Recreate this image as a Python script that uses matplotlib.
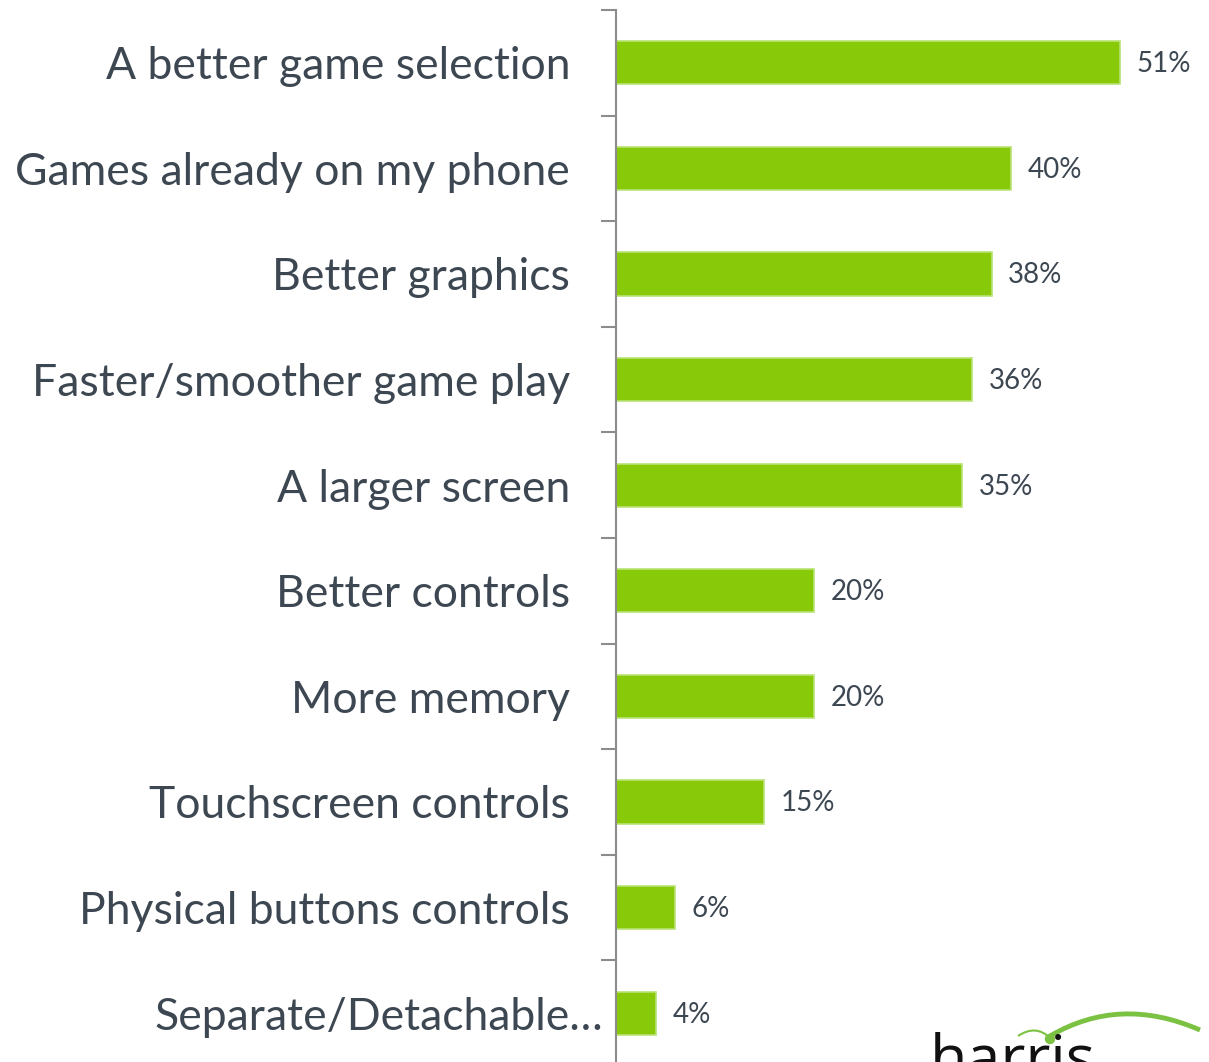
import matplotlib.pyplot as plt
import numpy as np
from matplotlib.path import Path
from matplotlib.patches import PathPatch, Circle
from matplotlib.transforms import ScaledTranslation

categories = ['A better game selection', 'Games already on my phone', 'Better graphics',
              'Faster/smoother game play', 'A larger screen', 'Better controls',
              'More memory', 'Touchscreen controls', 'Physical buttons controls',
              'Separate/Detachable\u2026']
values = [51, 40, 38, 36, 35, 20, 20, 15, 6, 4]

plt.rcParams['font.family'] = ['Lato', 'DejaVu Sans']
txt_color = '#3d4752'

fig = plt.figure(figsize=(12.09, 10.62), dpi=100, facecolor='w')
ax = fig.add_axes([616 / 1209, -4 / 1062, 1 - 616 / 1209, 1056 / 1062])

y_pos = np.arange(len(categories))
ax.barh(y_pos, values, height=0.41, color='#88c90a', edgecolor='#b9e375', linewidth=1.2)

for i, v in enumerate(values):
    ax.annotate('{}%'.format(v), xy=(v, i), xytext=(12, -1), textcoords='offset points',
                ha='left', va='center', fontsize=20, color=txt_color)

ax.set_xlim(0, 60)
ax.set_ylim(len(categories) - 0.5, -0.5)
ax.set_yticks(y_pos)
ax.set_yticklabels(categories, fontsize=32, color=txt_color)
ax.set_yticks(np.arange(len(categories)) - 0.5, minor=True)
ax.tick_params(axis='y', which='major', length=0, pad=33)
ax.tick_params(axis='y', which='minor', length=11, width=1.5, color='#8c8c8c')
ax.set_xticks([])
for s in ['top', 'right', 'bottom']:
    ax.spines[s].set_visible(False)
ax.spines['left'].set_color('#8c8c8c')
ax.spines['left'].set_linewidth(1.5)

# the truncated last label runs up to the axis line
last = ax.get_yticklabels()[-1]
last.set_transform(last.get_transform() + ScaledTranslation(0.33, 0, fig.dpi_scale_trans))

# logo in the lower right corner
fig.text(930 / 1209, -30 / 1062, 'harris', fontsize=44, color='#111111', ha='left', va='bottom',
         family=['Open Sans', 'DejaVu Sans'])
logo = fig.add_axes([0, 0, 1, 1], facecolor='none')
logo.set_xlim(0, 1209)
logo.set_ylim(1062, 0)
logo.axis('off')
swoosh = Path([(1050, 1036), (1120, 995), (1200, 1030)], [Path.MOVETO, Path.CURVE3, Path.CURVE3])
logo.add_patch(PathPatch(swoosh, fc='none', ec='#7cc242', lw=3.5))
inner = Path([(1018, 1036), (1036, 1024), (1050, 1038)], [Path.MOVETO, Path.CURVE3, Path.CURVE3])
logo.add_patch(PathPatch(inner, fc='none', ec='#7cc242', lw=1.5))
logo.add_patch(Circle((1050, 1039), 4.5, color='#7cc242'))

plt.savefig('out.png', dpi=100)
